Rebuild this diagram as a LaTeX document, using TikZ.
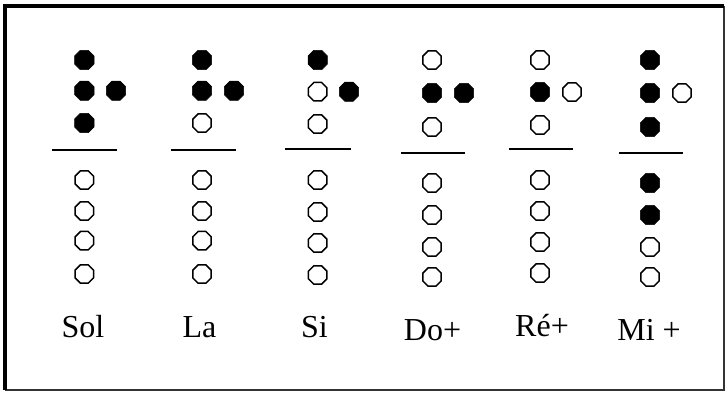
\documentclass[tikz,border=0pt]{standalone}
\usepackage{fontspec}
\setmainfont{Liberation Serif}
\usetikzlibrary{shapes.geometric}
\tikzset{
  holeopen/.style={regular polygon, regular polygon sides=8, draw=black, line width=1.5pt, fill=white, inner sep=0pt, minimum size=20pt},
  holeshut/.style={regular polygon, regular polygon sides=8, draw=black, line width=0.5pt, fill=black, inner sep=0pt, minimum size=21pt},
  sepline/.style={line width=2pt},
  notelabel/.style={anchor=base, inner sep=0pt, font=\fontsize{32}{36}\selectfont},
}
\begin{document}
\begin{tikzpicture}[x=1pt,y=-1pt]
\useasboundingbox (0,0) rectangle (726,392);
\fill[white] (0,0) rectangle (726,392);
% frame
\draw[line width=2pt, black!80] (724,5.8) -- (724,390) -- (5,390);
\draw[line width=3.5pt, black] (5,390) -- (5,5.8) -- (724,5.8);

% column: #1 name, #2 main x, #3 right x, #4..#6 top rows y, #7 line y, #8 line x1, #9 line x2
% --- Sol ---
\node[holeshut] (s1) at (84.3,60) {};
\node[holeshut] (s2) at (84.3,90.7) {};
\node[holeshut] (s2r) at (116,90.7) {};
\node[holeshut] (s3) at (84.3,123) {};
\coordinate (sla) at (52,150); \coordinate (slb) at (117,150);
\draw[sepline] (sla) -- (slb);
\node[holeopen] (s4) at (84.3,180) {};
\node[holeopen] (s5) at (84.3,211) {};
\node[holeopen] (s6) at (84.3,240.7) {};
\node[holeopen] (s7) at (84.3,274) {};
\node[notelabel] (sol) at (83,337) {Sol};

% --- La ---
\node[holeshut] (l1) at (202,60) {};
\node[holeshut] (l2) at (202,90.7) {};
\node[holeshut] (l2r) at (234,90.7) {};
\node[holeopen] (l3) at (202,123) {};
\coordinate (lla) at (171,150); \coordinate (llb) at (236,150);
\draw[sepline] (lla) -- (llb);
\node[holeopen] (l4) at (202,180) {};
\node[holeopen] (l5) at (202,211) {};
\node[holeopen] (l6) at (202,240.7) {};
\node[holeopen] (l7) at (202,274) {};
\node[notelabel] (la) at (199.5,337) {La};

% --- Si ---
\node[holeshut] (i1) at (317.7,60) {};
\node[holeopen] (i2) at (317.7,91.7) {};
\node[holeshut] (i2r) at (349,91.7) {};
\node[holeopen] (i3) at (317.7,124) {};
\coordinate (ila) at (285,149); \coordinate (ilb) at (351,149);
\draw[sepline] (ila) -- (ilb);
\node[holeopen] (i4) at (317.7,180) {};
\node[holeopen] (i5) at (317.7,212) {};
\node[holeopen] (i6) at (317.7,243) {};
\node[holeopen] (i7) at (317.7,275) {};
\node[notelabel] (si) at (314.5,337) {Si};

% --- Do+ ---
\node[holeopen] (d1) at (432,60) {};
\node[holeshut] (d2) at (432,93) {};
\node[holeshut] (d2r) at (464,93) {};
\node[holeopen] (d3) at (432,127) {};
\coordinate (dla) at (401,153); \coordinate (dlb) at (465,153);
\draw[sepline] (dla) -- (dlb);
\node[holeopen] (d4) at (432,183) {};
\node[holeopen] (d5) at (432,215) {};
\node[holeopen] (d6) at (432,247) {};
\node[holeopen] (d7) at (432,277) {};
\node[notelabel] (do) at (432.5,340) {Do+};

% --- Ré+ ---
\node[holeopen] (r1) at (540,60) {};
\node[holeshut] (r2) at (540,92) {};
\node[holeopen] (r2r) at (572,92) {};
\node[holeopen] (r3) at (540,125) {};
\coordinate (rla) at (509,149); \coordinate (rlb) at (573,149);
\draw[sepline] (rla) -- (rlb);
\node[holeopen] (r4) at (540,180) {};
\node[holeopen] (r5) at (540,211) {};
\node[holeopen] (r6) at (540,242) {};
\node[holeopen] (r7) at (540,273) {};
\node[notelabel] (re) at (542,336) {Ré+};

% --- Mi + ---
\node[holeshut] (m1) at (650,60) {};
\node[holeshut] (m2) at (650,93) {};
\node[holeopen] (m2r) at (682,93) {};
\node[holeshut] (m3) at (650,127) {};
\coordinate (mla) at (619,153); \coordinate (mlb) at (683,153);
\draw[sepline] (mla) -- (mlb);
\node[holeshut] (m4) at (650,183) {};
\node[holeshut] (m5) at (650,215) {};
\node[holeopen] (m6) at (650,247) {};
\node[holeopen] (m7) at (650,277) {};
\node[notelabel] (mi) at (649,340) {Mi +};
\end{tikzpicture}
\end{document}
